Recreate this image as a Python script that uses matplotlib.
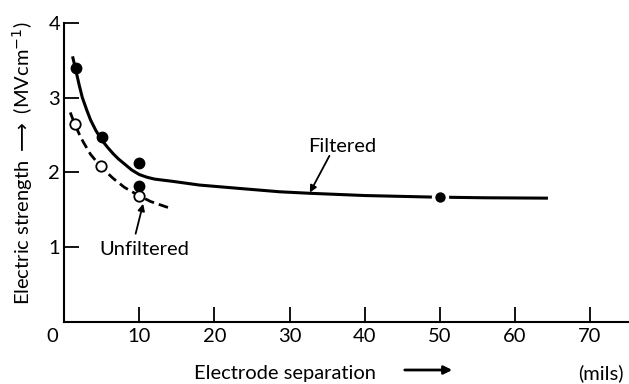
import numpy as np
import matplotlib.pyplot as plt

plt.rcParams['font.family'] = ['Lato', 'DejaVu Sans']

# Measured points (electrode separation in mils, electric strength in MV/cm)
filt_x = [1.5, 5.0, 10.0, 9.9]
filt_y = [3.40, 2.47, 2.13, 1.82]
filt_far_x = [50.0]
filt_far_y = [1.67]
unfilt_x = [1.4, 4.9, 9.9]
unfilt_y = [2.64, 2.09, 1.69]

# Hand-drawn trend curves
filt_curve_x = [1.1, 1.5, 2.0, 2.4, 3.0, 3.5, 4.2, 5.0, 5.8, 6.5, 7.2, 7.8, 8.4,
                9.0, 10.0, 11.0, 12.0, 14.4, 18.0, 23.3, 28.7, 32.7, 40.0,
                48.7, 56.0, 64.4]
filt_curve_y = [3.55, 3.38, 3.16, 3.00, 2.83, 2.70, 2.56, 2.43, 2.33, 2.25, 2.18,
                2.13, 2.08, 2.03, 1.97, 1.935, 1.91, 1.88, 1.83, 1.785, 1.74,
                1.72, 1.69, 1.67, 1.66, 1.655]
unfilt_curve_x = [0.8, 1.4, 2.0, 2.5, 3.5, 4.9, 6.5, 8.0, 9.9, 11.5, 14.1]
unfilt_curve_y = [2.80, 2.64, 2.51, 2.41, 2.24, 2.07, 1.92, 1.80, 1.69, 1.61, 1.52]

xticks = [10, 20, 30, 40, 50, 60, 70]
yticks = [1, 2, 3, 4]

fig = plt.figure(figsize=(6.29, 3.84), dpi=100)
ax = fig.add_axes([0.1022, 0.1615, 0.8955, 0.7794])

ax.plot(filt_curve_x, filt_curve_y, color='k', lw=2.2, solid_capstyle='butt')
ax.plot(unfilt_curve_x, unfilt_curve_y, color='k', lw=2.0,
        linestyle=(0, (3.5, 1.8)), dash_capstyle='butt')

ax.plot(filt_x, filt_y, 'o', color='k', ms=7.5)
# the far point sits in a small break of the line
ax.plot(filt_far_x, filt_far_y, 'o', color='k', ms=10, mec='white', mew=2.5)
ax.plot(unfilt_x, unfilt_y, 'o', mfc='white', mec='k', ms=7.5, mew=1.3)

arrow = dict(arrowstyle='-|>', lw=1.3, color='k', mutation_scale=10,
             shrinkA=0, shrinkB=0)
ax.text(37.0, 2.35, 'Filtered', fontsize=14.5, ha='center', va='center')
ax.annotate('', xy=(32.7, 1.73), xytext=(35.3, 2.22), arrowprops=arrow)
ax.text(10.7, 0.97, 'Unfiltered', fontsize=14.5, ha='center', va='center')
ax.annotate('', xy=(10.5, 1.58), xytext=(9.5, 1.18), arrowprops=arrow)

ax.set_xlim(0, 75)
ax.set_ylim(0, 4)
ax.set_xticks(xticks)
ax.set_yticks(yticks)
ax.set_xticklabels([str(v) for v in xticks])
ax.set_yticklabels([str(v) for v in yticks])
ax.tick_params(direction='in', length=11, width=1.3, labelsize=14.5)
ax.tick_params(axis='x', pad=4)
ax.tick_params(axis='y', pad=3)
for side in ['top', 'right']:
    ax.spines[side].set_visible(False)
for side in ['left', 'bottom']:
    ax.spines[side].set_linewidth(1.5)

# corner zero and axis titles
fig.text(52/629, 1 - 336/384, '0', fontsize=14.5, ha='center', va='center')
fig.text(23/629, 1 - 163/384, r'Electric strength $\longrightarrow$ (MVcm$^{-1}$)',
         fontsize=14.5, rotation=90, ha='center', va='center')
fig.text(285/629, 1 - 373/384, 'Electrode separation', fontsize=14.5,
         ha='center', va='center')
fig.text(601/629, 1 - 373/384, '(mils)', fontsize=14.5, ha='center', va='center')
fig.add_artist(plt.matplotlib.patches.FancyArrowPatch(
    (402/629, 1 - 370/384), (455/629, 1 - 370/384), transform=fig.transFigure,
    arrowstyle='-|>', lw=2.0, color='k', mutation_scale=12))

fig.savefig('out.png', dpi=100)
